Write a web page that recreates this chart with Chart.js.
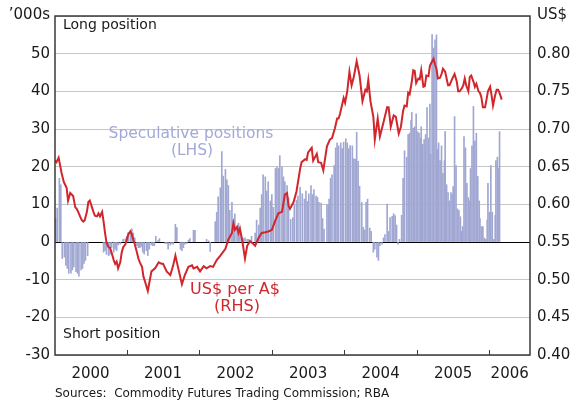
<!DOCTYPE html>
<html>
<head>
<meta charset="utf-8">
<script src="https://cdn.jsdelivr.net/npm/chart.js@4.4.1/dist/chart.umd.min.js"></script>
<style>
  body { margin: 0; background: #fff; }
  canvas { display: block; }
</style>
</head>
<body>
<canvas id="chart" width="574" height="405"></canvas>
<script>
// speculative net positions in A$ futures, '000 contracts (LHS)
const positionDates = [
  2000.02, 2000.04, 2000.07, 2000.09, 2000.11, 2000.14, 2000.16, 2000.18, 2000.20, 2000.23,
  2000.25, 2000.27, 2000.30, 2000.32, 2000.34, 2000.37, 2000.39, 2000.41, 2000.43, 2000.46,
  2000.68, 2000.70, 2000.72, 2000.75, 2000.77, 2000.79, 2000.82, 2000.84, 2000.86, 2000.88,
  2000.91, 2000.95, 2000.98, 2001.00, 2001.02, 2001.05, 2001.07, 2001.09, 2001.11, 2001.14,
  2001.16, 2001.18, 2001.20, 2001.22, 2001.24, 2001.27, 2001.29, 2001.31, 2001.34, 2001.36,
  2001.38, 2001.40, 2001.43, 2001.45, 2001.53, 2001.55, 2001.57, 2001.60, 2001.62, 2001.64,
  2001.67, 2001.69, 2001.74, 2001.76, 2001.78, 2001.80, 2001.83, 2001.85, 2001.87, 2001.92,
  2001.94, 2002.10, 2002.13, 2002.15, 2002.22, 2002.24, 2002.26, 2002.29, 2002.31, 2002.33,
  2002.36, 2002.38, 2002.40, 2002.42, 2002.45, 2002.47, 2002.49, 2002.52, 2002.54, 2002.56,
  2002.59, 2002.61, 2002.63, 2002.66, 2002.68, 2002.70, 2002.72, 2002.77, 2002.79, 2002.82,
  2002.84, 2002.86, 2002.88, 2002.91, 2002.93, 2002.95, 2002.98, 2003.00, 2003.02, 2003.05,
  2003.07, 2003.09, 2003.11, 2003.14, 2003.16, 2003.18, 2003.21, 2003.23, 2003.26, 2003.29,
  2003.31, 2003.34, 2003.36, 2003.39, 2003.42, 2003.45, 2003.47, 2003.49, 2003.51, 2003.54,
  2003.56, 2003.58, 2003.61, 2003.63, 2003.65, 2003.68, 2003.70, 2003.72, 2003.76, 2003.78,
  2003.79, 2003.81, 2003.83, 2003.86, 2003.88, 2003.90, 2003.92, 2003.95, 2003.97, 2003.99,
  2004.02, 2004.04, 2004.06, 2004.08, 2004.11, 2004.13, 2004.15, 2004.17, 2004.19, 2004.21,
  2004.24, 2004.26, 2004.28, 2004.30, 2004.32, 2004.35, 2004.37, 2004.40, 2004.42, 2004.45,
  2004.47, 2004.49, 2004.52, 2004.54, 2004.56, 2004.59, 2004.61, 2004.63, 2004.66, 2004.68,
  2004.70, 2004.72, 2004.74, 2004.76, 2004.79, 2004.81, 2004.83, 2004.86, 2004.88, 2004.90,
  2004.92, 2004.93, 2004.95, 2004.97, 2004.99, 2005.01, 2005.03, 2005.05, 2005.06, 2005.08,
  2005.10, 2005.12, 2005.14, 2005.16, 2005.18, 2005.19, 2005.21, 2005.23, 2005.25, 2005.27,
  2005.28, 2005.30, 2005.32, 2005.34, 2005.36, 2005.38, 2005.39, 2005.41, 2005.43, 2005.45,
  2005.47, 2005.49, 2005.50, 2005.52, 2005.54, 2005.56, 2005.58, 2005.60, 2005.62, 2005.63,
  2005.65, 2005.67, 2005.69, 2005.71, 2005.73, 2005.74, 2005.76, 2005.78, 2005.80, 2005.82,
  2005.84, 2005.86, 2005.87, 2005.89, 2005.91, 2005.93, 2005.95, 2005.97, 2005.98, 2006.00,
  2006.02, 2006.04, 2006.06, 2006.08, 2006.09, 2006.11, 2006.13, 2006.14
];
const positionValues = [
  6.2, 9, 16.9, 15.2, -4.4, -4, -6.2, -7, -8.3, -8.3,
  -7.4, -6.6, -7.9, -8.3, -9.1, -7.4, -7, -5.7, -4.9, -3.6,
  -2.7, -2.3, -3.3, -3.6, -3.2, -1.5, -2.7, -1.9, -2.3, -0.8,
  -0.6, 0.7, 0.9, 1.5, 2.6, 3.2, 3.5, 2.4, 1.1, -1,
  -1.5, -1.5, -1.2, -2.7, -3.2, -2.3, -3.6, -1.9, -0.8, -1,
  -1, 1.5, 0.4, 0.9, -0.4, -0.4, -1.9, -0.8, -0.4, -0.6,
  4.7, 3.8, -1.9, -2.3, -1.5, -0.6, -0.4, 0.5, 0.9, 3.1,
  3.1, 0.7, 0.3, -2.5, 5.4, 7.9, 12, 14.4, 24, 17.5,
  19.3, 16.5, 15, 8.4, 10.5, 5.8, 7.5, 4.1, 5, 2.4,
  1.1, 0.9, 1.1, 0.7, 0.7, 0.5, 1.5, 2.4, 5.8, 4.5,
  9, 12.6, 17.8, 17.3, 13.5, 16, 10.9, 12.6, 9.2, 19.5,
  19.9, 19.5, 22.9, 19.9, 17.3, 16, 15, 11.8, 6, 6.5,
  10.1, 11.1, 12.2, 14.5, 12.8, 11.4, 13.5, 10.8, 12.8, 15,
  12.6, 13.9, 12.2, 11.8, 10.5, 10.3, 6.2, 3.4, 9.9, 9.9,
  11.4, 16.9, 17.8, 20.3, 25, 26.3, 25.5, 26.3, 24.8, 26.5,
  27.4, 26.3, 24.8, 25.6, 25.5, 22.1, 22, 29.1, 21.4, 14.8,
  10.5, 3.9, 3.2, 10.5, 11.4, 3.7, 2.8, -2.7, -1.9, -4,
  -4.9, -1, -0.6, 1.1, 2, 10.1, 2.8, 6.5, 6.8, 7.5,
  7, 4.5, -0.6, 0.7, 7.1, 16.9, 24.2, 22.5, 28.5, 28.9,
  32.3, 34.4, 30.2, 30.6, 34, 29.3, 28.9, 27.6, 30.6, 25.9,
  27.2, 28.5, 35.7, 27.6, 36.6, 23.3, 55.1, 51.5, 53.7, 55,
  24.6, 26.3, 21.6, 25.5, 18.2, 21.6, 29.3, 15.2, 13.1, 10.9,
  13.1, 12.6, 14.7, 33.3, 20.3, 8.8, 8.4, 6.7, 2.8, 4.1,
  28, 25, 15.6, 11.8, 10.9, 19.5, 25.5, 36, 26.8, 28.9,
  17.4, 10.9, 6.2, 4.1, 4.1, 1.1, 0.7, 5.8, 15.6, 7.9,
  20.3, 7.9, 0.7, 7.1, 21.6, 22.5, 19.5, 29.3
];

// US$ per A$ (RHS)
const audDates = [
  2000.01, 2000.03, 2000.06, 2000.08, 2000.10, 2000.13, 2000.15, 2000.17, 2000.19, 2000.22,
  2000.24, 2000.26, 2000.29, 2000.31, 2000.33, 2000.36, 2000.38, 2000.40, 2000.42, 2000.45,
  2000.47, 2000.49, 2000.52, 2000.54, 2000.56, 2000.59, 2000.61, 2000.63, 2000.66, 2000.68,
  2000.70, 2000.72, 2000.75, 2000.77, 2000.79, 2000.82, 2000.84, 2000.86, 2000.88, 2000.91,
  2000.93, 2000.95, 2000.98, 2001.00, 2001.02, 2001.05, 2001.07, 2001.09, 2001.11, 2001.14,
  2001.16, 2001.18, 2001.21, 2001.23, 2001.25, 2001.29, 2001.34, 2001.39, 2001.44, 2001.48,
  2001.50, 2001.55, 2001.60, 2001.64, 2001.67, 2001.71, 2001.76, 2001.80, 2001.85, 2001.90,
  2001.92, 2001.97, 2002.01, 2002.06, 2002.10, 2002.15, 2002.19, 2002.24, 2002.29, 2002.36,
  2002.40, 2002.45, 2002.47, 2002.49, 2002.52, 2002.54, 2002.56, 2002.59, 2002.63, 2002.66,
  2002.70, 2002.75, 2002.77, 2002.82, 2002.86, 2002.91, 2002.95, 2003.00, 2003.05, 2003.09,
  2003.14, 2003.18, 2003.21, 2003.23, 2003.25, 2003.30, 2003.34, 2003.39, 2003.41, 2003.46,
  2003.48, 2003.50, 2003.55, 2003.57, 2003.62, 2003.64, 2003.68, 2003.71, 2003.76, 2003.80,
  2003.83, 2003.87, 2003.90, 2003.92, 2003.94, 2003.99, 2004.01, 2004.04, 2004.07, 2004.10,
  2004.13, 2004.17, 2004.21, 2004.25, 2004.29, 2004.31, 2004.33, 2004.36, 2004.40, 2004.42,
  2004.46, 2004.49, 2004.54, 2004.59, 2004.61, 2004.64, 2004.68, 2004.71, 2004.75, 2004.78,
  2004.81, 2004.83, 2004.86, 2004.88, 2004.90, 2004.93, 2004.95, 2004.97, 2004.99, 2005.02,
  2005.04, 2005.06, 2005.09, 2005.11, 2005.13, 2005.16, 2005.18, 2005.20, 2005.23, 2005.25,
  2005.27, 2005.29, 2005.32, 2005.34, 2005.36, 2005.39, 2005.41, 2005.43, 2005.45, 2005.48,
  2005.50, 2005.52, 2005.55, 2005.57, 2005.59, 2005.62, 2005.64, 2005.66, 2005.68, 2005.71,
  2005.73, 2005.75, 2005.78, 2005.80, 2005.82, 2005.85, 2005.87, 2005.89, 2005.91, 2005.94,
  2005.96, 2005.98, 2006.01, 2006.03, 2006.05, 2006.08, 2006.10, 2006.12, 2006.14, 2006.17
];
const audValues = [
  0.658, 0.656, 0.662, 0.652, 0.642, 0.630, 0.626, 0.622, 0.605, 0.615,
  0.613, 0.611, 0.596, 0.594, 0.590, 0.583, 0.579, 0.577, 0.579, 0.590,
  0.603, 0.605, 0.596, 0.590, 0.585, 0.584, 0.588, 0.584, 0.590, 0.577,
  0.562, 0.549, 0.543, 0.542, 0.536, 0.526, 0.521, 0.524, 0.515, 0.523,
  0.536, 0.543, 0.547, 0.553, 0.560, 0.564, 0.560, 0.553, 0.547, 0.536,
  0.528, 0.523, 0.517, 0.504, 0.498, 0.485, 0.511, 0.515, 0.523, 0.521,
  0.521, 0.511, 0.506, 0.519, 0.532, 0.515, 0.494, 0.506, 0.517, 0.519,
  0.515, 0.517, 0.511, 0.518, 0.515, 0.518, 0.517, 0.526, 0.532, 0.541,
  0.553, 0.562, 0.575, 0.566, 0.570, 0.562, 0.568, 0.553, 0.528, 0.545,
  0.551, 0.547, 0.545, 0.556, 0.562, 0.563, 0.564, 0.566, 0.579, 0.588,
  0.590, 0.613, 0.615, 0.598, 0.594, 0.603, 0.617, 0.647, 0.656, 0.660,
  0.659, 0.669, 0.675, 0.658, 0.667, 0.656, 0.655, 0.645, 0.677, 0.686,
  0.688, 0.701, 0.714, 0.714, 0.720, 0.741, 0.735, 0.750, 0.776, 0.758,
  0.769, 0.790, 0.771, 0.737, 0.752, 0.750, 0.765, 0.737, 0.716, 0.686,
  0.714, 0.690, 0.709, 0.729, 0.729, 0.703, 0.718, 0.716, 0.694, 0.703,
  0.724, 0.731, 0.730, 0.748, 0.746, 0.763, 0.778, 0.777, 0.761, 0.767,
  0.766, 0.778, 0.756, 0.757, 0.771, 0.770, 0.784, 0.788, 0.793, 0.786,
  0.780, 0.767, 0.768, 0.773, 0.780, 0.776, 0.767, 0.758, 0.758, 0.765,
  0.769, 0.773, 0.763, 0.750, 0.750, 0.754, 0.758, 0.767, 0.758, 0.750,
  0.769, 0.771, 0.763, 0.756, 0.760, 0.750, 0.748, 0.742, 0.729, 0.729,
  0.739, 0.750, 0.756, 0.745, 0.731, 0.745, 0.752, 0.752, 0.748, 0.739
];

const yearLabels = [2000, 2001, 2002, 2003, 2004, 2005, 2006];
const xStart = 2000.01;
const xEnd = 2006.56;

const FONT = "'DejaVu Sans', sans-serif";
const BAR_COLOUR = '#a0a7d2';
const LINE_COLOUR = '#d0262c';

const barData = positionDates.map((d, i) => ({ x: d, y: positionValues[i] }));
const lineData = audDates.map((d, i) => ({ x: d, y: audValues[i] }));

// frame, year tick marks, in-chart notes and source line
const decorations = {
  id: 'decorations',
  afterDraw(chart) {
    const ctx = chart.ctx;
    const a = chart.chartArea;
    const xs = chart.scales.x;
    ctx.save();
    ctx.strokeStyle = '#3a3a3a';
    ctx.lineWidth = 1.5;
    ctx.strokeRect(a.left, a.top, a.right - a.left, a.bottom - a.top);

    ctx.lineWidth = 1;
    ctx.beginPath();
    yearLabels.slice(1).forEach(function(yr) {
      const x = Math.round(xs.getPixelForValue(yr)) + 0.5;
      ctx.moveTo(x, a.bottom);
      ctx.lineTo(x, a.bottom - 5);
    });
    ctx.stroke();

    ctx.fillStyle = '#1a1a1a';
    ctx.font = '15px ' + FONT;
    ctx.textAlign = 'right';
    ctx.fillText('\u2019000s', 50, 19);
    ctx.textAlign = 'left';
    ctx.fillText('US$', 537, 19);

    ctx.font = '14px ' + FONT;
    ctx.fillText('Long position', 63, 29);
    ctx.fillText('Short position', 63, 338);

    ctx.font = '12px ' + FONT;
    ctx.fillText('Sources:  Commodity Futures Trading Commission; RBA', 55, 397);

    ctx.textAlign = 'center';
    ctx.fillStyle = '#a2a9d6';
    ctx.font = '15.5px ' + FONT;
    ctx.fillText('Speculative positions', 191, 138);
    ctx.fillText('(LHS)', 192, 155);

    ctx.fillStyle = LINE_COLOUR;
    ctx.font = '16px ' + FONT;
    ctx.fillText('US$ per A$', 235, 294);
    ctx.fillText('(RHS)', 237, 311);
    ctx.restore();
  }
};

new Chart(document.getElementById('chart'), {
  type: 'bar',
  data: {
    datasets: [{
      type: 'line',
      data: lineData,
      yAxisID: 'y2',
      borderColor: LINE_COLOUR,
      borderWidth: 2,
      pointRadius: 0,
      tension: 0,
      order: 0
    }, {
      type: 'bar',
      data: barData,
      yAxisID: 'y',
      backgroundColor: BAR_COLOUR,
      barThickness: 1,
      order: 1
    }]
  },
  options: {
    responsive: false,
    animation: false,
    devicePixelRatio: 1,
    layout: { padding: { top: 5, left: 0, right: 0, bottom: 0 } },
    plugins: { legend: { display: false }, tooltip: { enabled: false } },
    scales: {
      x: {
        type: 'linear',
        min: xStart,
        max: xEnd,
        offset: false,
        grid: { display: false },
        border: { display: false },
        afterBuildTicks: function(scale) {
          // year labels sit in the middle of each year (or of the visible part of 2006)
          scale.ticks = yearLabels.map(function(yr) {
            return { value: (yr + Math.min(yr + 1, xEnd)) / 2 };
          });
        },
        afterFit: function(scale) { scale.height = 50; },
        ticks: {
          autoSkip: false,
          maxRotation: 0,
          padding: 2,
          color: '#1a1a1a',
          font: { family: FONT, size: 15 },
          callback: function(v) { return String(Math.floor(v)); }
        }
      },
      y: {
        position: 'left',
        min: -30,
        max: 60,
        border: { display: false },
        grid: {
          drawTicks: false,
          color: function(c) { return c.tick.value === 0 ? '#000' : '#c6c6c6'; },
          lineWidth: 1
        },
        afterFit: function(scale) { scale.width = 55; },
        ticks: {
          stepSize: 10,
          padding: 5,
          color: '#1a1a1a',
          font: { family: FONT, size: 15 },
          callback: function(v) { return v === 60 ? '' : String(v); }
        }
      },
      y2: {
        position: 'right',
        min: 0.40,
        max: 0.85,
        border: { display: false },
        grid: { display: false, drawTicks: false },
        afterFit: function(scale) { scale.width = 44; },
        ticks: {
          stepSize: 0.05,
          padding: 7,
          color: '#1a1a1a',
          font: { family: FONT, size: 15 },
          callback: function(v) { return Math.abs(v - 0.85) < 1e-6 ? '' : v.toFixed(2); }
        }
      }
    }
  },
  plugins: [decorations]
});
</script>
</body>
</html>
